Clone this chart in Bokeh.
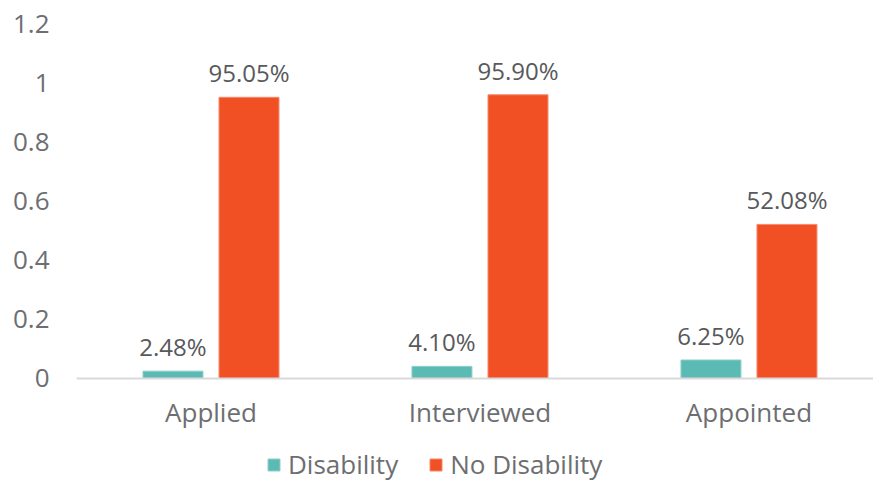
from bokeh.plotting import figure
from bokeh.models import Range1d, FixedTicker, ColumnDataSource, Legend, LegendItem, Span
from bokeh.core.properties import value
from bokeh.embed import file_html
from bokeh.resources import INLINE

categories = ["Applied", "Interviewed", "Appointed"]
disability = [0.0248, 0.0410, 0.0625]
no_disability = [0.9505, 0.9590, 0.5208]
disability_labels = ["2.48%", "4.10%", "6.25%"]
no_disability_labels = ["95.05%", "95.90%", "52.08%"]
y_ticks = [0, 0.2, 0.4, 0.6, 0.8, 1.0, 1.2]
y_tick_labels = ["0", "0.2", "0.4", "0.6", "0.8", "1", "1.2"]

FONT = "Open Sans"
TEAL = "#5BBAB3"
ORANGE = "#F05023"

centers = [i + 0.5 for i in range(len(categories))]
off = 0.1413
bw = 0.223

src_d = ColumnDataSource(dict(x=[c - off for c in centers], top=disability, lab=disability_labels))
src_n = ColumnDataSource(dict(x=[c + off for c in centers], top=no_disability, lab=no_disability_labels))
src_c = ColumnDataSource(dict(x=centers, y=[0] * len(centers), lab=categories))

p = figure(width=873, height=483, output_backend="svg", toolbar_location=None,
           x_range=Range1d(0, 2.963), y_range=Range1d(-0.355, 1.2),
           min_border_left=76, min_border_right=0, min_border_top=23, min_border_bottom=0)
p.outline_line_color = None
p.xgrid.grid_line_color = None
p.ygrid.grid_line_color = None
p.xaxis.visible = False
p.background_fill_color = "white"
p.border_fill_color = "white"

p.add_layout(Span(location=0, dimension="width", line_color="#d9d9d9", line_width=2))

r1 = p.vbar(x="x", top="top", bottom=0, width=bw, source=src_d, fill_color=TEAL, line_color="#8fd0ca", line_width=1)
r2 = p.vbar(x="x", top="top", bottom=0, width=bw, source=src_n, fill_color=ORANGE, line_color="#f58a6c", line_width=1)

for src in (src_d, src_n):
    p.text(x="x", y="top", text="lab", source=src, text_align="center", text_baseline="bottom",
           y_offset=-8, text_font=value(FONT), text_font_size="24px", text_color="#58595b")

p.text(x="x", y="y", text="lab", source=src_c, text_align="center", text_baseline="middle",
       y_offset=34, text_font=value(FONT), text_font_size="26px", text_color="#6d6e71")

p.yaxis.ticker = FixedTicker(ticks=y_ticks)
p.yaxis.major_label_overrides = {t: l for t, l in zip(y_ticks, y_tick_labels)}
p.yaxis.axis_line_color = None
p.yaxis.major_tick_line_color = None
p.yaxis.minor_tick_line_color = None
p.yaxis.major_label_text_font = FONT
p.yaxis.major_label_text_font_size = "26px"
p.yaxis.major_label_text_color = "#6d6e71"
p.yaxis.major_label_standoff = 21

legend = Legend(items=[LegendItem(label="Disability", renderers=[r1]),
                       LegendItem(label="No Disability", renderers=[r2])],
                orientation="horizontal", location=(190, 1),
                label_text_font=FONT, label_text_font_size="26px", label_text_color="#6d6e71",
                glyph_width=15, glyph_height=15, label_standoff=7, spacing=30,
                padding=0, margin=0, border_line_color=None, background_fill_alpha=0)
p.add_layout(legend, "center")

open("out.html", "w").write(file_html(p, INLINE))
